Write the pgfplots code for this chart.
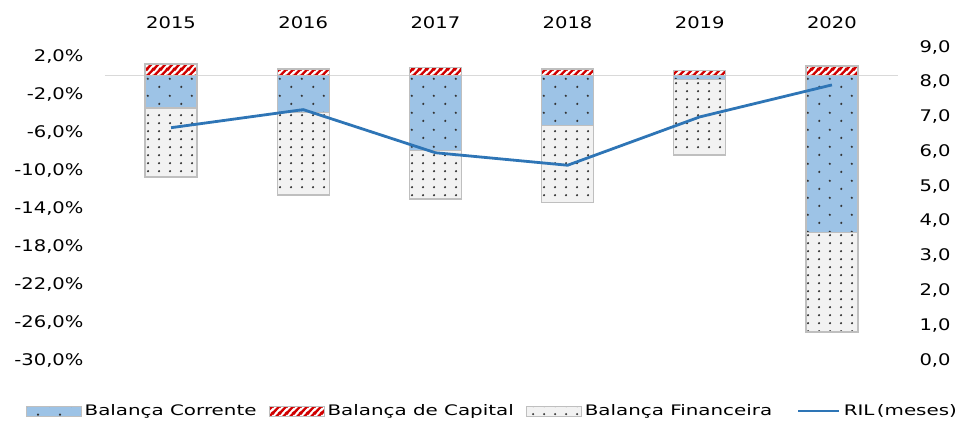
\documentclass[border=0pt]{standalone}
\usepackage{fontspec}
\setmainfont{DejaVu Sans}
\newfontfamily\tickfont[FakeStretch=1.22]{DejaVu Sans}
\newfontfamily\legfont[FakeStretch=1.37]{DejaVu Sans}
\usepackage{pgfplots}
\usepackage{pgfplotstable}
\pgfplotsset{compat=1.18}
\usetikzlibrary{patterns.meta}

\definecolor{cblue}{HTML}{9DC3E6}
\definecolor{cfin}{HTML}{F2F2F2}
\definecolor{cred}{HTML}{D00000}
\definecolor{cbord}{HTML}{BFBFBF}
\definecolor{cline}{HTML}{2E75B6}
\definecolor{czero}{HTML}{D9D9D9}

\tikzdeclarepattern{
  name=sparsedots, type=uncolored,
  bottom left={(0pt,0pt)}, top right={(22pt,16.6pt)}, tile size={(22pt,16.6pt)},
  code={\fill (5.5pt,4.15pt) circle (1.25pt); \fill (16.5pt,12.45pt) circle (1.25pt);}
}
\tikzdeclarepattern{
  name=densedots, type=uncolored,
  bottom left={(0pt,0pt)}, top right={(11pt,8.3pt)}, tile size={(11pt,8.3pt)},
  code={\fill (5.5pt,4.15pt) circle (1.25pt);}
}
\tikzdeclarepattern{
  name=redstripes, type=uncolored,
  bottom left={(0pt,0pt)}, top right={(7pt,7pt)}, tile size={(7pt,7pt)},
  code={
    \draw[line width=2.6pt] (-1pt,-1pt) -- (8pt,8pt);
    \draw[line width=2.6pt] (-1pt,6pt) -- (1pt,8pt);
    \draw[line width=2.6pt] (6pt,-1pt) -- (8pt,1pt);
  }
}

\pgfplotstableread{
x cor cap fin ril
0 -3.43 1.21 -7.29 6.68
1 -3.90 0.69 -8.69 7.20
2 -7.94 0.86 -5.10 5.96
3 -5.30 0.69 -8.06 5.60
4 -0.44 0.54 -7.95 6.99
5 -16.57 1.00 -10.48 7.91
}\datatable

\begin{document}
\begin{tikzpicture}
\begin{axis}[name=main,
  width=793pt, height=313pt, scale only axis,
  xmin=-0.5, xmax=5.5, ymin=-30, ymax=3,
  xtick={0,1,2,3,4,5}, xticklabels={2015,2016,2017,2018,2019,2020},
  xticklabel pos=upper,
  xticklabel style={font=\tickfont\fontsize{16}{19}\selectfont, yshift=15pt},
  ytick={-30,-26,...,2},
  /pgf/number format/assume math mode=true,
  yticklabel={\pgfmathprintnumber[fixed,fixed zerofill,precision=1,use comma]{\tick}\%},
  yticklabel style={font=\tickfont\fontsize{16}{19}\selectfont, anchor=east, xshift=-18pt},
  axis line style={draw=none}, major tick length=0pt,
  extra y ticks={0}, extra y tick labels={},
  extra y tick style={grid=major, major grid style={czero, line width=1.2pt}},
  ybar, bar width=52pt, bar shift=0pt,
  legend columns=4,
  legend style={draw=none, fill=none, at={(0.489,-0.163)}, anchor=center,
    font=\legfont\fontsize{14.5}{17}\selectfont,
    /tikz/every even column/.append style={column sep=9pt},
    nodes={inner sep=3pt}},
  legend image code/.code={\draw[#1] (0pt,-5pt) rectangle (55pt,5pt);},
]
\addplot[forget plot, preaction={fill=cfin}, pattern=densedots, pattern color=black!80, draw=cbord, line width=1.3pt]
  table[x=x, y expr=\thisrow{cor}+\thisrow{fin}] {\datatable};
\addplot[forget plot, preaction={fill=cblue}, pattern=sparsedots, pattern color=black!80, draw=cbord, line width=1.3pt]
  table[x=x, y=cor] {\datatable};
\addplot[forget plot, preaction={fill=white}, pattern=redstripes, pattern color=cred, draw=cbord, line width=1.3pt]
  table[x=x, y=cap] {\datatable};

\addlegendimage{preaction={fill=cblue}, pattern=sparsedots, pattern color=black!80, draw=cbord, line width=1pt}
\addlegendentry{Balança Corrente}
\addlegendimage{preaction={fill=white}, pattern=redstripes, pattern color=cred, draw=cbord, line width=1pt}
\addlegendentry{Balança de Capital}
\addlegendimage{preaction={fill=cfin}, pattern=densedots, pattern color=black!80, draw=cbord, line width=1pt}
\addlegendentry{Balança Financeira}
\addlegendimage{legend image code/.code={\path (0pt,0pt); \draw[cline, line width=2.8pt] (14pt,0pt) -- (55pt,0pt);}}
\addlegendentry{RIL\,(meses)}
\end{axis}

\begin{axis}[
  width=793pt, height=313pt, scale only axis,
  xmin=-0.5, xmax=5.5, ymin=0, ymax=9,
  axis y line*=right, axis x line=none,
  ytick={0,1,...,9},
  /pgf/number format/assume math mode=true,
  yticklabel={\pgfmathprintnumber[fixed,fixed zerofill,precision=1,use comma]{\tick}},
  yticklabel style={font=\tickfont\fontsize{16}{19}\selectfont, anchor=west, xshift=18pt},
  axis line style={draw=none}, major tick length=0pt,
]
\addplot[cline, line width=2.8pt, mark=none, line join=round] table[x=x, y=ril] {\datatable};
\end{axis}

\pgfresetboundingbox
\path[use as bounding box] ([shift={(-105pt,-66pt)}]main.south west) rectangle ([shift={(868pt,360pt)}]main.south west);
\end{tikzpicture}
\end{document}
